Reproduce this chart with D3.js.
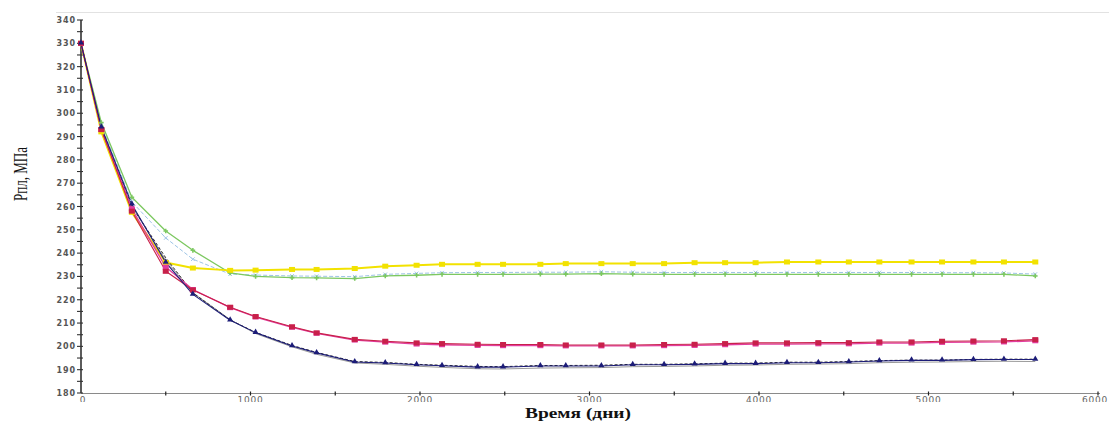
<!DOCTYPE html>
<html>
<head>
<meta charset="utf-8">
<script src="https://cdn.jsdelivr.net/npm/d3@7/dist/d3.min.js"></script>
<style>
  html, body { margin: 0; padding: 0; background: #fff; }
  svg { display: block; }
</style>
</head>
<body>
<svg id="chart" width="1109" height="421"></svg>
<script>
// Time of each reported point, days
const days = [0, 120, 300, 500, 660, 880, 1030, 1245, 1390, 1615, 1795, 1980, 2130, 2340, 2490,
  2710, 2860, 3070, 3255, 3440, 3620, 3800, 3980, 4165, 4350, 4530, 4710, 4900, 5080, 5265, 5445, 5630];

// Reservoir pressure, MPa
const yellowSeries = [330, 292, 257.5, 236, 233.6, 232.6, 232.7, 233.0, 233.0, 233.4, 234.4, 234.8, 235.2, 235.2, 235.2,
  235.2, 235.5, 235.5, 235.5, 235.5, 235.9, 235.9, 235.9, 236.2, 236.2, 236.2, 236.2, 236.2, 236.2, 236.2, 236.2, 236.2];
const greenSeries = [330, 296, 264, 249.5, 241.2, 231.5, 230.0, 229.5, 229.4, 229.1, 230.2, 230.5, 230.9, 230.9, 230.9,
  231.0, 231.0, 231.2, 231.0, 230.9, 230.9, 230.9, 230.9, 230.9, 230.9, 230.9, 230.9, 230.9, 230.9, 230.9, 230.9, 230.2];
const lightBlueSeries = [330, 295, 262, 246.5, 237.4, 231.0, 230.6, 230.2, 230.1, 229.9, 230.9, 231.3, 231.6, 231.7, 231.7,
  231.8, 231.8, 232.0, 231.8, 231.7, 231.7, 231.7, 231.7, 231.7, 231.7, 231.7, 231.7, 231.7, 231.6, 231.6, 231.5, 231.0];
const redSeries = [330, 293, 258, 232.2, 224.2, 216.8, 212.8, 208.4, 205.8, 203.0, 202.2, 201.5, 201.2, 200.9, 200.8,
  200.8, 200.6, 200.6, 200.6, 200.8, 200.9, 201.2, 201.5, 201.5, 201.6, 201.6, 201.9, 201.9, 202.2, 202.3, 202.4, 202.9];
const magentaSeries = [330, 293, 259, 234, 224.4, 216.6, 212.6, 208.2, 205.6, 202.7, 201.8, 201.0, 200.7, 200.4, 200.3,
  200.3, 200.2, 200.2, 200.2, 200.3, 200.4, 200.7, 201.0, 201.0, 201.1, 201.1, 201.4, 201.4, 201.7, 201.8, 201.9, 202.4];
const navySeries = [330, 294, 261, 236, 222.3, 211.2, 205.9, 200.2, 197.2, 193.3, 192.9, 192.1, 191.7, 191.1, 191.1,
  191.6, 191.6, 191.6, 192.1, 192.1, 192.3, 192.6, 192.6, 193.0, 193.0, 193.3, 193.7, 194.0, 194.0, 194.3, 194.4, 194.4];
const graySeries = [330, 294, 260, 237, 223.0, 211.5, 205.5, 199.8, 196.6, 192.9, 192.3, 191.5, 191.0, 190.4, 190.3,
  190.7, 190.8, 190.9, 191.3, 191.4, 191.6, 191.9, 192.0, 192.3, 192.4, 192.6, 193.0, 193.2, 193.3, 193.5, 193.6, 193.5];
const blackSeries = [330, 293, 260, 238, 223.0, 211.3, 206.0, 200.4, 197.4, 193.5, 193.1, 192.3, 191.9, 191.4, 191.3,
  191.8, 191.8, 191.9, 192.3, 192.3, 192.5, 192.8, 192.8, 193.2, 193.2, 193.5, 193.9, 194.1, 194.1, 194.4, 194.5, 194.5];

const xTicks = [0, 1000, 2000, 3000, 4000, 5000, 6000];
const yTicks = [180, 190, 200, 210, 220, 230, 240, 250, 260, 270, 280, 290, 300, 310, 320, 330, 340];

const xTitle = "Время (дни)";
const yTitle = "Рпл, МПа";

const series = [
  { values: lightBlueSeries, color: "#9ec4e6", width: 1, dash: "4,2", marker: "x" },
  { values: greenSeries, color: "#7cc860", width: 1.3, dash: null, marker: "plus" },
  { values: yellowSeries, color: "#f2e200", width: 2, dash: null, marker: "square" },
  { values: graySeries, color: "#9a9a9a", width: 1, dash: null, marker: null },
  { values: blackSeries, color: "#222222", width: 1, dash: "3,2", marker: null },
  { values: magentaSeries, color: "#e23c9e", width: 1.3, dash: null, marker: "square" },
  { values: redSeries, color: "#c8204a", width: 1.1, dash: null, marker: "square" },
  { values: navySeries, color: "#1c1c78", width: 1.1, dash: null, marker: "triangle" }
];

const svg = d3.select("#chart");
const plotLeft = 81, plotRight = 1098, plotTop = 20, plotBottom = 393;

const x = d3.scaleLinear().domain([0, 6000]).range([plotLeft, plotRight]);
const y = d3.scaleLinear().domain([180, 340]).range([plotBottom, plotTop]);

// faint frame line along the top
svg.append("line")
  .attr("x1", 56).attr("x2", 1109).attr("y1", 12.5).attr("y2", 12.5)
  .attr("stroke", "#e2e2e2").attr("stroke-width", 1);

// x axis
const xAxis = svg.append("g").attr("transform", `translate(0,${plotBottom})`);
xAxis.append("line").attr("x1", plotLeft).attr("x2", plotRight + 2).attr("y1", 0.5).attr("y2", 0.5)
  .attr("stroke", "#8a8a8a").attr("stroke-width", 1);
xAxis.selectAll(".xminor").data(d3.range(500, 6001, 500)).join("line")
  .attr("x1", d => x(d)).attr("x2", d => x(d)).attr("y1", -1.5).attr("y2", 2.5)
  .attr("stroke", "#222").attr("stroke-width", 1.2);

// tick labels sit under the axis with their lower part hidden
svg.append("clipPath").attr("id", "xlabClip")
  .append("rect").attr("x", 0).attr("y", 396).attr("width", 1109).attr("height", 6);
svg.append("g").attr("clip-path", "url(#xlabClip)")
  .selectAll("text").data(xTicks).join("text")
  .attr("x", d => d === 6000 ? 1108 : x(d) + (d === 0 ? 2 : 0)).attr("y", 402.5)
  .attr("text-anchor", d => d === 6000 ? "end" : "middle")
  .attr("font-family", "DejaVu Sans, sans-serif").attr("font-size", 9)
  .attr("letter-spacing", 0.8)
  .attr("fill", "#666")
  .text(d => d);

// y axis
const yAxis = svg.append("g");
yAxis.append("line").attr("x1", plotLeft).attr("x2", plotLeft).attr("y1", plotTop).attr("y2", plotBottom)
  .attr("stroke", "#333").attr("stroke-width", 1.6);
yAxis.selectAll(".ytick").data(d3.range(180, 341, 5)).join("line")
  .attr("x1", plotLeft - 4).attr("x2", plotLeft + 2)
  .attr("y1", d => y(d)).attr("y2", d => y(d))
  .attr("stroke", "#333").attr("stroke-width", 1.1);
yAxis.selectAll(".ylab").data(yTicks).join("text")
  .attr("x", plotLeft - 5).attr("y", d => y(d) + 3)
  .attr("text-anchor", "end")
  .attr("font-family", "DejaVu Sans, sans-serif").attr("font-weight", "bold")
  .attr("font-size", 8).attr("letter-spacing", 0.9)
  .attr("fill", "#555")
  .text(d => d);

// titles
svg.append("text")
  .attr("x", 578).attr("y", 418)
  .attr("text-anchor", "middle")
  .attr("font-family", "Liberation Serif, Times New Roman, serif")
  .attr("font-weight", "bold").attr("font-size", 14)
  .attr("textLength", 106).attr("lengthAdjust", "spacingAndGlyphs")
  .attr("fill", "#111")
  .text(xTitle);

svg.append("text")
  .attr("transform", "translate(27,174) rotate(-90)")
  .attr("text-anchor", "middle")
  .attr("font-family", "Liberation Serif, Times New Roman, serif")
  .attr("font-size", 19)
  .attr("textLength", 54).attr("lengthAdjust", "spacingAndGlyphs")
  .attr("fill", "#111")
  .text(yTitle);

// curves
const line = d3.line().x((d, i) => x(days[i])).y(d => y(d));
const plot = svg.append("g");

series.forEach(s => {
  plot.append("path")
    .datum(s.values)
    .attr("d", line)
    .attr("fill", "none")
    .attr("stroke", s.color)
    .attr("stroke-width", s.width)
    .attr("stroke-dasharray", s.dash)
    .attr("stroke-linejoin", "round");
});

series.forEach(s => {
  if (!s.marker) return;
  const g = plot.append("g");
  const pts = s.values.map((v, i) => [x(days[i]), y(v)]);
  if (s.marker === "square") {
    g.selectAll("rect").data(pts).join("rect")
      .attr("x", d => d[0] - 3).attr("y", d => d[1] - 2.5)
      .attr("width", 6).attr("height", 5)
      .attr("fill", s.color);
  } else if (s.marker === "triangle") {
    g.selectAll("path").data(pts).join("path")
      .attr("d", d3.symbol(d3.symbolTriangle, 16))
      .attr("transform", d => `translate(${d[0]},${d[1] - 0.5})`)
      .attr("fill", s.color);
  } else if (s.marker === "plus") {
    g.selectAll("path").data(pts).join("path")
      .attr("d", d3.symbol(d3.symbolCross, 12))
      .attr("transform", d => `translate(${d[0]},${d[1]})`)
      .attr("fill", s.color);
  } else if (s.marker === "x") {
    g.selectAll("path").data(pts).join("path")
      .attr("d", d3.symbol(d3.symbolTimes, 10))
      .attr("transform", d => `translate(${d[0]},${d[1]})`)
      .attr("stroke", s.color).attr("stroke-width", 1).attr("fill", "none");
  }
});
</script>
</body>
</html>
